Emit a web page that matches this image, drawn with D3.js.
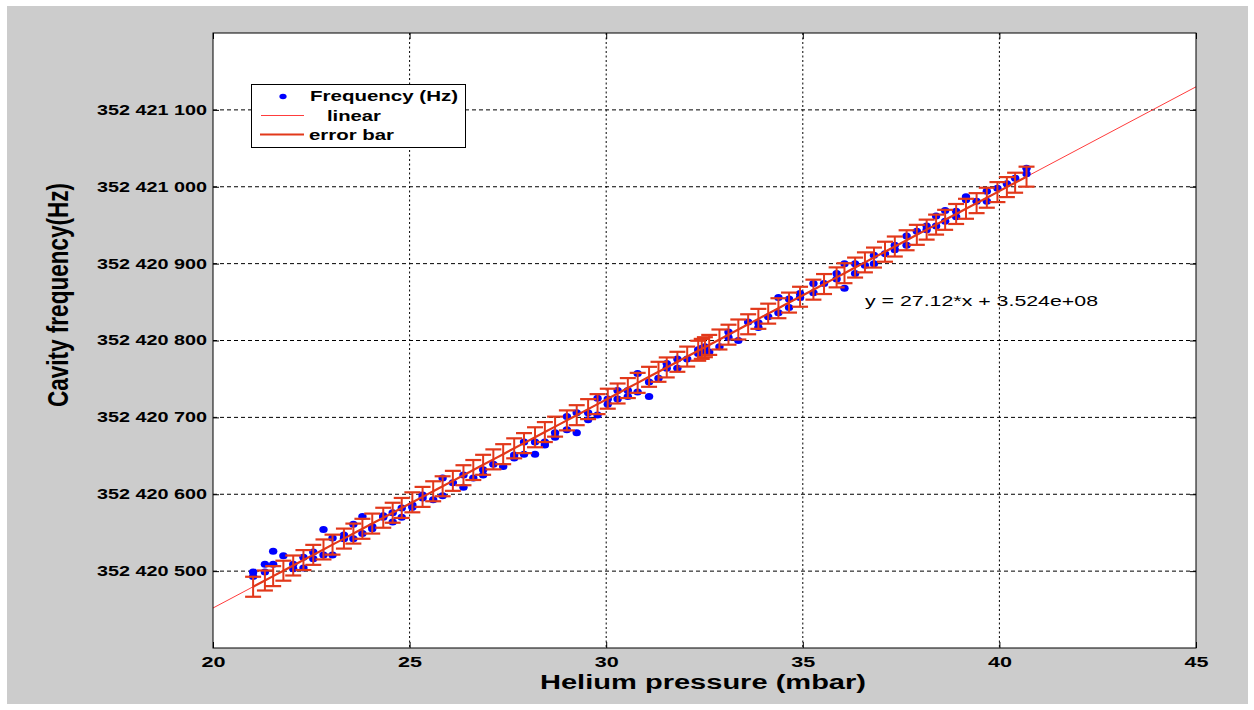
<!DOCTYPE html>
<html>
<head>
<meta charset="utf-8">
<script src="https://cdn.jsdelivr.net/npm/d3@7"></script>
<style>
body { margin: 0; background: #ffffff; }
text { font-family: "Liberation Sans", Arial, sans-serif; }
</style>
</head>
<body>
<div id="main"></div>
<script>
// helium pressure of each measurement (mbar)
const pressure = [21.02, 21.32, 21.53, 21.79, 22.04, 22.30, 22.55, 22.81, 23.04, 23.33,
    23.57, 23.80, 24.05, 24.33, 24.57, 24.80, 25.07, 25.33, 25.60, 25.84,
    26.10, 26.37, 26.62, 26.87, 27.13, 27.38, 27.66, 27.91, 28.19, 28.44,
    28.70, 29.00, 29.25, 29.54, 29.78, 30.04, 30.29, 30.55, 30.80, 31.09,
    31.33, 31.54, 31.81, 32.06, 32.34, 32.43, 32.51, 32.62,
    32.88, 33.11, 33.36, 33.61, 33.87, 34.12, 34.38, 34.65, 34.93, 35.27,
    35.54, 35.86, 36.06, 36.33, 36.58, 36.81, 37.09, 37.34, 37.64, 37.90,
    38.15, 38.39, 38.62, 38.90, 39.15, 39.42, 39.68, 39.95, 40.19, 40.40, 40.69];

// first and second frequency reading at each pressure (Hz)
const freqA = [352420499, 352420509, 352420526, 352420520, 352420509, 352420518, 352420525, 352420554, 352420543, 352420547,
    352420561, 352420571, 352420558, 352420572, 352420576, 352420582, 352420586, 352420599, 352420593, 352420621,
    352420615, 352420625, 352420621, 352420632, 352420639, 352420636, 352420647, 352420652, 352420652, 352420664,
    352420674, 352420684, 352420680, 352420697, 352420703, 352420717, 352420724, 352420727, 352420733, 352420727,
    352420751, 352420770, 352420776, 352420776, 352420788, 352420790, 352420792, 352420785,
    352420792, 352420811, 352420800, 352420824, 352420823, 352420831, 352420856, 352420854, 352420861, 352420874,
    352420874, 352420887, 352420900, 352420900, 352420898, 352420911, 352420913, 352420924, 352420936, 352420942,
    352420949, 352420962, 352420969, 352420968, 352420987, 352420981, 352420994, 352420998, 352421004, 352421011, 352421024];

const freqB = [352420493, 352420499, 352420509, null, 352420503, 352420504, 352420516, 352420521, 352420521, 352420542,
    352420542, 352420549, 352420555, 352420570, 352420564, 352420570, 352420583, 352420595, null, 352420598,
    null, 352420609, null, 352420625, null, null, 352420651, 352420668, 352420668, 352420668,
    352420680, 352420701, 352420706, 352420706, 352420725, 352420724, 352420735, 352420735, 352420757, 352420746,
    null, 352420764, 352420764, null, 352420783, null, 352420785, null,
    null, 352420804, null, null, 352420817, null, 352420836, 352420843, 352420856, 352420862,
    null, 352420880, 352420868, 352420887, null, 352420900, null, 352420918, 352420924, null,
    352420944, 352420949, 352420955, 352420961, 352420983, null, 352420981, null, null, null, 352421017];

const xTicks = [20, 25, 30, 35, 40, 45];
const yTicks = [352420500, 352420600, 352420700, 352420800, 352420900, 352421000, 352421100];

// linear fit y = a*x + b
const fitSlope = 27.12;
const fitIntercept = 352419909.6;
const errHalf = 13; // Hz

const ctx = {
    w: 1254,
    h: 710,
    left: 213,
    right: 1196,
    top: 33,
    bottom: 648,
    ERR_COLOR: "#e2381a",
    FIT_COLOR: "#ff3c3c",
    DOT_COLOR: "#0000ff",
};

const x = d3.scaleLinear().domain([20, 45]).range([ctx.left, ctx.right]);
const y = d3.scaleLinear().domain([352420400, 352421200]).range([ctx.bottom, ctx.top]);
const fit = p => fitSlope * p + fitIntercept;

function createViz(){
    let svg = d3.select("#main").append("svg")
                .attr("width", ctx.w)
                .attr("height", ctx.h);

    svg.append("rect").attr("x", 7).attr("y", 6)
       .attr("width", 1241).attr("height", 698).attr("fill", "#cccccc");
    svg.append("rect").attr("x", ctx.left).attr("y", ctx.top)
       .attr("width", ctx.right - ctx.left).attr("height", ctx.bottom - ctx.top)
       .attr("fill", "white");

    // grid
    let grid = svg.append("g").attr("id", "grid");
    grid.selectAll("line.gx")
        .data(xTicks.slice(1, -1))
        .enter().append("line")
        .attr("class", "gx")
        .attr("x1", d => x(d)).attr("x2", d => x(d))
        .attr("y1", ctx.top).attr("y2", ctx.bottom)
        .attr("stroke", "#000").attr("stroke-width", 1)
        .attr("stroke-dasharray", "2,2.5");
    grid.selectAll("line.gy")
        .data(yTicks)
        .enter().append("line")
        .attr("class", "gy")
        .attr("x1", ctx.left).attr("x2", ctx.right)
        .attr("y1", d => y(d)).attr("y2", d => y(d))
        .attr("stroke", "#000").attr("stroke-width", 1)
        .attr("stroke-dasharray", "4,3");

    // thin fit line over the whole x range
    svg.append("line")
       .attr("x1", x(20)).attr("y1", y(fit(20)))
       .attr("x2", x(45)).attr("y2", y(fit(45)))
       .attr("stroke", ctx.FIT_COLOR).attr("stroke-width", 1);

    // measurements
    let pts = [];
    pressure.forEach(function(p, i){
        pts.push({p: p, f: freqA[i]});
        if (freqB[i] !== null) pts.push({p: p, f: freqB[i]});
    });
    svg.append("g").attr("id", "dots")
       .selectAll("ellipse")
       .data(pts)
       .enter().append("ellipse")
       .attr("cx", d => x(d.p)).attr("cy", d => y(d.f))
       .attr("rx", 4.2).attr("ry", 3.5)
       .attr("fill", ctx.DOT_COLOR);

    // error bars on the fitted values
    let eb = svg.append("g").attr("id", "errbars");
    eb.append("path")
      .datum(pressure)
      .attr("d", d3.line().x(d => x(d)).y(d => y(fit(d))))
      .attr("fill", "none")
      .attr("stroke", ctx.ERR_COLOR).attr("stroke-width", 2.2);
    let bars = eb.selectAll("g.bar").data(pressure).enter().append("g").attr("class", "bar");
    bars.append("line")
        .attr("x1", d => x(d)).attr("x2", d => x(d))
        .attr("y1", d => y(fit(d) - errHalf)).attr("y2", d => y(fit(d) + errHalf))
        .attr("stroke", ctx.ERR_COLOR).attr("stroke-width", 2);
    [-1, 1].forEach(function(s){
        bars.append("line")
            .attr("x1", d => x(d) - 8).attr("x2", d => x(d) + 8)
            .attr("y1", d => y(fit(d) + s * errHalf)).attr("y2", d => y(fit(d) + s * errHalf))
            .attr("stroke", ctx.ERR_COLOR).attr("stroke-width", 2.2);
    });

    // axes box
    svg.append("rect").attr("x", ctx.left).attr("y", ctx.top)
       .attr("width", ctx.right - ctx.left).attr("height", ctx.bottom - ctx.top)
       .attr("fill", "none").attr("stroke", "#000").attr("stroke-width", 1);

    let fmt = d => d3.format(",")(d).replace(/,/g, " ");

    let yAxis = svg.append("g").attr("transform", "translate(" + ctx.left + ",0)")
        .call(d3.axisLeft(y).tickValues(yTicks).tickSize(-6).tickPadding(6).tickFormat(fmt));
    yAxis.selectAll("text")
         .attr("font-size", 14).attr("font-weight", "bold").attr("fill", "#000")
         .attr("textLength", 110).attr("lengthAdjust", "spacingAndGlyphs")
         .style("font-family", "'Liberation Sans', Arial, sans-serif");

    let xAxis = svg.append("g").attr("transform", "translate(0," + ctx.bottom + ")")
        .call(d3.axisBottom(x).tickValues(xTicks).tickSize(-6).tickPadding(9));
    xAxis.selectAll("text")
         .attr("font-size", 14).attr("font-weight", "bold").attr("fill", "#000")
         .attr("textLength", 24).attr("lengthAdjust", "spacingAndGlyphs")
         .style("font-family", "'Liberation Sans', Arial, sans-serif");

    svg.append("g").attr("transform", "translate(0," + ctx.top + ")")
       .call(d3.axisTop(x).tickValues(xTicks).tickSize(-6).tickFormat(""));
    svg.append("g").attr("transform", "translate(" + ctx.right + ",0)")
       .call(d3.axisRight(y).tickValues(yTicks).tickSize(-6).tickFormat(""));
    svg.selectAll(".domain").remove();

    // axis titles
    svg.append("text")
       .attr("x", 703).attr("y", 689)
       .attr("text-anchor", "middle")
       .attr("font-size", 20).attr("font-weight", "bold")
       .attr("textLength", 326).attr("lengthAdjust", "spacingAndGlyphs")
       .text("Helium pressure (mbar)");
    svg.append("g").attr("transform", "translate(68,295) scale(1.45,1) rotate(-90)")
       .append("text")
       .attr("text-anchor", "middle")
       .attr("font-size", 20).attr("font-weight", "bold")
       .attr("textLength", 224).attr("lengthAdjust", "spacingAndGlyphs")
       .text("Cavity frequency(Hz)");

    // fit equation
    svg.append("text")
       .attr("x", 865).attr("y", 306)
       .attr("font-size", 15)
       .attr("textLength", 233).attr("lengthAdjust", "spacingAndGlyphs")
       .text("y = 27.12*x + 3.524e+08");

    createLegend(svg);
}

function createLegend(svg){
    let lg = svg.append("g").attr("id", "legend");
    lg.append("rect").attr("x", 251.5).attr("y", 84.5)
      .attr("width", 214).attr("height", 63)
      .attr("fill", "white").attr("stroke", "#000").attr("stroke-width", 1);
    lg.append("ellipse").attr("cx", 283).attr("cy", 96.5)
      .attr("rx", 3.6).attr("ry", 2.8).attr("fill", ctx.DOT_COLOR);
    lg.append("line").attr("x1", 261).attr("x2", 304).attr("y1", 115.5).attr("y2", 115.5)
      .attr("stroke", ctx.FIT_COLOR).attr("stroke-width", 1);
    lg.append("line").attr("x1", 260).attr("x2", 304).attr("y1", 134.5).attr("y2", 134.5)
      .attr("stroke", ctx.ERR_COLOR).attr("stroke-width", 2);
    let items = [
        {t: "Frequency (Hz)", x: 310, y: 101, len: 148},
        {t: "linear", x: 327, y: 121, len: 54},
        {t: "error bar", x: 309, y: 140, len: 85},
    ];
    lg.selectAll("text.lab").data(items).enter().append("text")
      .attr("class", "lab")
      .attr("x", d => d.x).attr("y", d => d.y)
      .attr("font-size", 14).attr("font-weight", "bold")
      .attr("textLength", d => d.len).attr("lengthAdjust", "spacingAndGlyphs")
      .text(d => d.t);
}

createViz();
</script>
</body>
</html>
